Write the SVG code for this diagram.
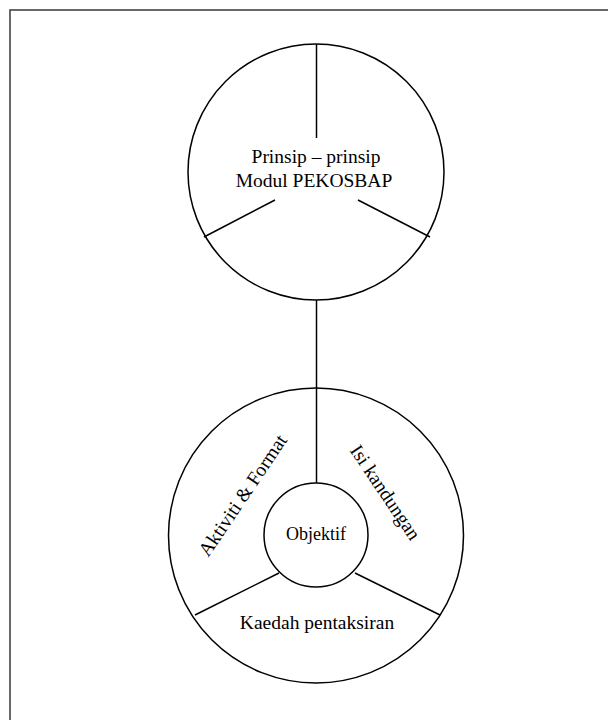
<svg xmlns="http://www.w3.org/2000/svg" width="608" height="720" viewBox="0 0 608 720">
<style>
.ln{stroke:#000;stroke-width:1.5;fill:none}
.c{stroke:#000;stroke-width:1.5;fill:#fff}
.t{font-family:"Liberation Serif","Times New Roman",serif;font-size:19.5px;fill:#000;text-anchor:middle}
</style>
<rect x="0" y="0" width="608" height="720" fill="#fff"/>
<rect x="10" y="10" width="620" height="730" fill="none" stroke="#444" stroke-width="1.6"/>
<g id="connectors">
<line class="ln" x1="316.5" y1="300" x2="316.5" y2="388"/>
</g>
<g id="top-node">
<circle class="c" cx="316" cy="172" r="128"/>
<line class="ln" x1="316.5" y1="44" x2="316.5" y2="138"/>
<line class="ln" x1="275" y1="200" x2="204" y2="237"/>
<line class="ln" x1="358" y1="200" x2="430" y2="237"/>
<text class="t" x="316" y="163">Prinsip – prinsip</text>
<text class="t" x="314" y="187">Modul PEKOSBAP</text>
</g>
<g id="bottom-node">
<circle class="c" cx="316" cy="535.5" r="147.5"/>
<line class="ln" x1="316.5" y1="388" x2="316.5" y2="483"/>
<line class="ln" x1="279" y1="573" x2="195" y2="615"/>
<line class="ln" x1="355" y1="573" x2="440" y2="615"/>
<text class="t" transform="translate(248,499) rotate(-56)">Aktiviti &amp; Format</text>
<text class="t" transform="translate(380,496) rotate(56)">Isi kandungan</text>
<text class="t" x="317" y="629">Kaedah pentaksiran</text>
</g>
<g id="inner-node">
<circle class="c" cx="316" cy="535" r="52"/>
<text class="t" x="316" y="540" style="font-size:18px">Objektif</text>
</g>
</svg>
